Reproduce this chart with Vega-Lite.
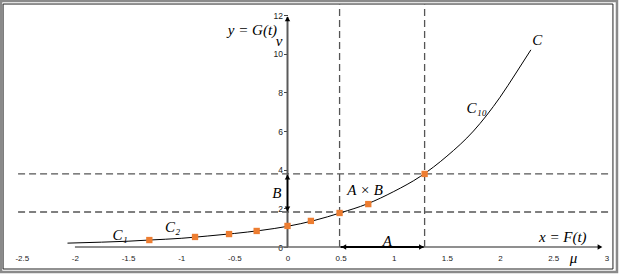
{
  "$schema": "https://vega.github.io/schema/vega-lite/v6.json",
  "width": 619,
  "height": 250,
  "autosize": {"type": "none"},
  "padding": {"left": 0, "top": 0, "right": 0, "bottom": 25},
  "background": "white",
  "config": {"view": {"stroke": null}},
  "datasets": {
    "curve": [
      {"x": -2.07, "y": 0.2}, {"x": -1.75, "y": 0.25}, {"x": -1.5, "y": 0.3}, {"x": -1.3, "y": 0.36},
      {"x": -1.0, "y": 0.45}, {"x": -0.75, "y": 0.57}, {"x": -0.5, "y": 0.7}, {"x": -0.25, "y": 0.86},
      {"x": 0, "y": 1.07}, {"x": 0.25, "y": 1.37}, {"x": 0.5, "y": 1.77}, {"x": 0.75, "y": 2.23},
      {"x": 1.0, "y": 2.87}, {"x": 1.25, "y": 3.65}, {"x": 1.5, "y": 4.7}, {"x": 1.75, "y": 6.0},
      {"x": 2.0, "y": 7.75}, {"x": 2.15, "y": 9.0}, {"x": 2.29, "y": 10.2}
    ],
    "points": [
      {"x": -1.3, "y": 0.36}, {"x": -0.87, "y": 0.52}, {"x": -0.55, "y": 0.67}, {"x": -0.29, "y": 0.83},
      {"x": 0, "y": 1.09}, {"x": 0.22, "y": 1.35}, {"x": 0.49, "y": 1.76}, {"x": 0.76, "y": 2.22},
      {"x": 1.29, "y": 3.78}
    ],
    "hdash": [
      {"x": -2.535, "x2": 3.02, "y": 1.81},
      {"x": -2.535, "x2": 3.02, "y": 3.78}
    ],
    "vdash": [
      {"x": 0.49, "y": 0, "y2": 12.55},
      {"x": 1.29, "y": 0, "y2": 12.55}
    ],
    "xaxisline": [{"x": -2.0, "x2": 2.95, "y": 0}],
    "yaxisline": [{"x": 0, "y": 0, "y2": 11.9}],
    "aline": [{"x": 0.5, "x2": 1.28, "y": 0}],
    "bline": [{"x": 0, "y": 1.85, "y2": 3.72}],
    "heads": [
      {"x": 0, "y": 11.8, "dir": "up"},
      {"x": 2.94, "y": 0, "dir": "right"},
      {"x": 0.53, "y": 0, "dir": "left"},
      {"x": 1.26, "y": 0, "dir": "right"},
      {"x": 0, "y": 1.97, "dir": "down"},
      {"x": 0, "y": 3.62, "dir": "up"}
    ],
    "frameOuter": [{"x": -2.695, "x2": 3.1, "y": 12.73, "y2": -1.293}],
    "frameInner": [{"x": -2.676, "x2": 3.062, "y": 12.57, "y2": -1.138}],
    "labels": [
      {"x": -0.33, "y": 11.23, "t": "y = G(t)"},
      {"x": -0.08, "y": 10.65, "t": "v"},
      {"x": 2.35, "y": 10.71, "t": "C"},
      {"x": 1.78, "y": 7.2, "t": "C₁₀"},
      {"x": 0.73, "y": 2.95, "t": "A × B"},
      {"x": -0.1, "y": 2.79, "t": "B"},
      {"x": 0.94, "y": 0.31, "t": "A"},
      {"x": 2.59, "y": 0.52, "t": "x = F(t)"},
      {"x": 2.69, "y": -0.55, "t": "μ"},
      {"x": -1.575, "y": 0.62, "t": "C₁"},
      {"x": -1.08, "y": 1.03, "t": "C₂"}
    ]
  },
  "encoding": {
    "x": {
      "field": "x", "type": "quantitative",
      "scale": {"domain": [-2.705, 3.119], "nice": false, "zero": false},
      "axis": {
        "orient": "bottom", "title": null, "domain": false, "ticks": false, "grid": false,
        "values": [-2.5, -2, -1.5, -1, -0.5, 0, 0.5, 1, 1.5, 2, 2.5, 3],
        "labelExpr": "'' + datum.value", "labelFont": "Liberation Sans", "labelFontSize": 8,
        "labelColor": "#222", "labelPadding": 4, "labelFlush": false, "labelOverlap": false
      }
    },
    "y": {
      "field": "y", "type": "quantitative",
      "scale": {"domain": [-0.155, 12.778], "nice": false, "zero": false},
      "axis": {
        "orient": "left", "offset": -287.5, "title": null, "domain": false, "grid": false,
        "ticks": true, "tickSize": 4, "tickColor": "#444",
        "values": [0, 2, 4, 6, 8, 10, 12],
        "labelFont": "Liberation Sans", "labelFontSize": 8.5, "labelColor": "#222", "labelPadding": 1,
        "labelOverlap": false
      }
    }
  },
  "layer": [
    {"data": {"name": "frameOuter"}, "mark": {"type": "rect", "fill": null, "stroke": "#8a8a8a", "strokeWidth": 2.5},
     "encoding": {"x2": {"field": "x2"}, "y2": {"field": "y2"}}},
    {"data": {"name": "frameInner"}, "mark": {"type": "rect", "fill": null, "stroke": "#222", "strokeWidth": 1},
     "encoding": {"x2": {"field": "x2"}, "y2": {"field": "y2"}}},
    {"data": {"name": "hdash"}, "mark": {"type": "rule", "color": "#555", "strokeWidth": 1.3, "strokeDash": [7, 4]},
     "encoding": {"x2": {"field": "x2"}}},
    {"data": {"name": "vdash"}, "mark": {"type": "rule", "color": "#555", "strokeWidth": 1.3, "strokeDash": [7, 4]},
     "encoding": {"y2": {"field": "y2"}}},
    {"data": {"name": "xaxisline"}, "mark": {"type": "rule", "color": "#6a6a6a", "strokeWidth": 1.6},
     "encoding": {"x2": {"field": "x2"}}},
    {"data": {"name": "yaxisline"}, "mark": {"type": "rule", "color": "#5a5a5a", "strokeWidth": 2},
     "encoding": {"y2": {"field": "y2"}}},
    {"data": {"name": "aline"}, "mark": {"type": "rule", "color": "#000", "strokeWidth": 2},
     "encoding": {"x2": {"field": "x2"}}},
    {"data": {"name": "bline"}, "mark": {"type": "rule", "color": "#000", "strokeWidth": 1.5},
     "encoding": {"y2": {"field": "y2"}}},
    {"data": {"name": "heads"}, "mark": {"type": "point", "filled": true, "color": "#000", "size": 30, "opacity": 1},
     "encoding": {"shape": {"field": "dir", "type": "nominal", "legend": null,
       "scale": {"domain": ["up", "down", "left", "right"], "range": ["triangle-up", "triangle-down", "triangle-left", "triangle-right"]}}}},
    {"data": {"name": "curve"}, "mark": {"type": "line", "color": "#000", "strokeWidth": 1, "interpolate": "monotone"}},
    {"data": {"name": "points"}, "mark": {"type": "point", "shape": "square", "filled": true, "color": "#ED7D31", "size": 40, "opacity": 1}},
    {"data": {"name": "labels"}, "mark": {"type": "text", "font": "Liberation Serif", "fontStyle": "italic", "fontSize": 15, "color": "#000", "baseline": "middle", "align": "center"},
     "encoding": {"text": {"field": "t"}}}
  ]
}
